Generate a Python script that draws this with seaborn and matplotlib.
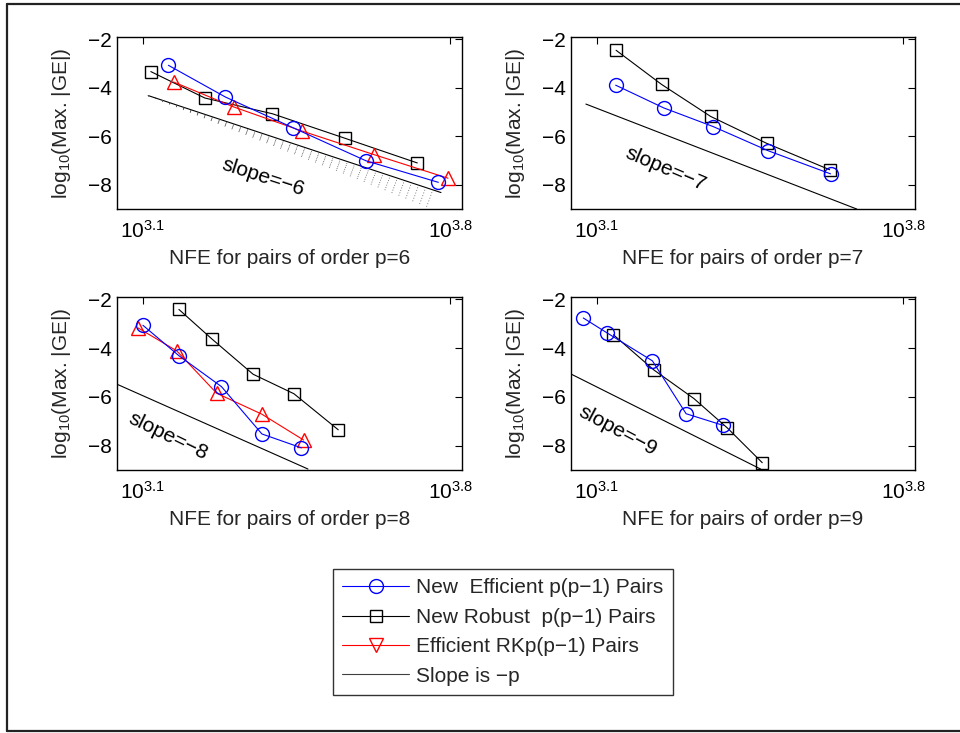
import numpy as np
import pandas as pd
import matplotlib
matplotlib.use("Agg")
import matplotlib.pyplot as plt
import seaborn as sns
from matplotlib.lines import Line2D
from matplotlib.ticker import FixedLocator, FixedFormatter, NullLocator

# ---- data (log10 of NFE, log10 of max |GE|) ----
orders = [6, 7, 8, 9]

eff_lognfe = {
    6: [3.158, 3.288, 3.441, 3.608, 3.773],
    7: [3.143, 3.253, 3.366, 3.492, 3.634],
    8: [3.100, 3.182, 3.279, 3.371, 3.461],
    9: [3.069, 3.124, 3.227, 3.304, 3.389],
}
eff_err = {
    6: [-3.07, -4.38, -5.64, -7.01, -7.90],
    7: [-3.89, -4.83, -5.60, -6.60, -7.55],
    8: [-3.06, -4.31, -5.58, -7.52, -8.09],
    9: [-2.76, -3.38, -4.52, -6.69, -7.17],
}

rob_lognfe = {
    6: [3.118, 3.241, 3.395, 3.560, 3.725],
    7: [3.144, 3.248, 3.360, 3.488, 3.632],
    8: [3.182, 3.257, 3.351, 3.444, 3.545],
    9: [3.138, 3.230, 3.322, 3.398, 3.478],
}
rob_err = {
    6: [-3.33, -4.42, -5.07, -6.08, -7.10],
    7: [-2.45, -3.86, -5.18, -6.29, -7.38],
    8: [-2.41, -3.62, -5.07, -5.87, -7.35],
    9: [-3.45, -4.89, -6.07, -7.27, -8.70],
}

rk_lognfe = {
    6: [3.170, 3.307, 3.462, 3.627, 3.795],
    8: [3.089, 3.177, 3.268, 3.371, 3.466],
}
rk_err = {
    6: [-3.76, -4.79, -5.78, -6.76, -7.73],
    8: [-3.17, -4.11, -5.85, -6.71, -7.77],
}

# reference line of slope -p: start point and end abscissa
slope_x0 = [3.112, 3.075, 3.041, 3.042]
slope_y0 = [-4.32, -4.67, -5.48, -5.07]
slope_x1 = [3.779, 3.694, 3.476, 3.474]

# slopes of the dotted shading under the p=6 reference line
shade_slopes = [-6.2, -6.4, -6.6, -6.8, -7.0, -7.2]
shade_x1 = 3.76

legend_labels = ["New  Efficient p(p\u22121) Pairs", "New Robust  p(p\u22121) Pairs",
                 "Efficient RKp(p\u22121) Pairs", "Slope is \u2212p"]

sns.set_theme(style="white")
plt.rcParams["font.family"] = ["Liberation Sans", "DejaVu Sans"]
plt.rcParams["mathtext.fontset"] = "custom"
plt.rcParams["mathtext.rm"] = "Liberation Sans"

fig = plt.figure(figsize=(9.6, 7.33), dpi=100)

# axes boxes in figure fractions
boxes = {
    6: [0.1219, 0.7149, 0.3594, 0.2347],
    7: [0.5948, 0.7149, 0.3583, 0.2347],
    8: [0.1219, 0.3588, 0.3594, 0.2360],
    9: [0.5948, 0.3588, 0.3583, 0.2360],
}
# label position (log10 nfe, err) and rotation of the "slope=-p" text
slope_text = {
    6: (3.374, -7.68, -18),
    7: (3.257, -7.36, -23),
    8: (3.158, -7.62, -26),
    9: (3.147, -7.39, -28),
}

fs = 15
lw = 0.8
for i, p in enumerate(orders):
    ax = fig.add_axes(boxes[p])
    ax.set_xscale("log")

    # slope line
    x0, y0, x1 = slope_x0[i], slope_y0[i], slope_x1[i]
    y1 = y0 - p * (x1 - x0)
    ax.plot([10 ** x0, 10 ** x1], [y0, y1], color="black", lw=lw)

    if p == 6:
        for s in shade_slopes:
            ys = y0 + s * (shade_x1 - x0)
            ax.plot([10 ** x0, 10 ** shade_x1], [y0, ys], color="0.3",
                    lw=0.7, ls=(0, (0.7, 7)))

    df_r = pd.DataFrame({"nfe": 10 ** np.array(rob_lognfe[p]), "err": rob_err[p]})
    sns.lineplot(data=df_r, x="nfe", y="err", ax=ax, color="black", lw=lw,
                 marker="s", markersize=8, markerfacecolor="none",
                 markeredgecolor="black", markeredgewidth=1.0)

    if p in rk_lognfe:
        df_k = pd.DataFrame({"nfe": 10 ** np.array(rk_lognfe[p]), "err": rk_err[p]})
        sns.lineplot(data=df_k, x="nfe", y="err", ax=ax, color="red", lw=lw,
                     marker="^", markersize=10, markerfacecolor="none",
                     markeredgecolor="red", markeredgewidth=1.0)

    df_e = pd.DataFrame({"nfe": 10 ** np.array(eff_lognfe[p]), "err": eff_err[p]})
    sns.lineplot(data=df_e, x="nfe", y="err", ax=ax, color="blue", lw=lw,
                 marker="o", markersize=10, markerfacecolor="none",
                 markeredgecolor="blue", markeredgewidth=1.0)

    tx, ty, rot = slope_text[p]
    ax.text(10 ** tx, ty, "slope=\u2212%d" % p, fontsize=fs, rotation=rot,
            ha="center", va="center", color="black")

    ax.set_xlim(10 ** 3.041, 10 ** 3.827)
    ax.set_ylim(-9, -1.9)
    ax.xaxis.set_major_locator(FixedLocator([10 ** 3.1, 10 ** 3.8]))
    ax.xaxis.set_major_formatter(FixedFormatter([r"$\mathregular{10^{3.1}}$",
                                                 r"$\mathregular{10^{3.8}}$"]))
    ax.xaxis.set_minor_locator(NullLocator())
    ax.set_yticks([-8, -6, -4, -2])
    ax.tick_params(direction="in", length=5, width=0.8, top=True, right=True,
                   labelsize=fs, colors="black")
    ax.tick_params(axis="x", pad=8)
    for sp in ax.spines.values():
        sp.set_color("black")
        sp.set_linewidth(1.0)
    ax.set_xlabel("NFE for pairs of order p=%d" % p, fontsize=fs, labelpad=5)
    ax.set_ylabel(r"$\mathregular{log_{10}}$(Max. |GE|)", fontsize=fs, labelpad=11)

handles = [
    Line2D([], [], color="blue", lw=lw, marker="o", markersize=10,
           markerfacecolor="none", markeredgecolor="blue"),
    Line2D([], [], color="black", lw=lw, marker="s", markersize=8,
           markerfacecolor="none", markeredgecolor="black"),
    Line2D([], [], color="red", lw=lw, marker="v", markersize=10,
           markerfacecolor="none", markeredgecolor="red"),
    Line2D([], [], color="0.25", lw=lw),
]
leg = fig.legend(handles, legend_labels, loc="lower left",
                 bbox_to_anchor=(0.3469, 0.0518), borderaxespad=0, fontsize=fs,
                 frameon=True, fancybox=False, edgecolor="black", handlelength=3.2,
                 handletextpad=0.35, labelspacing=0.5, borderpad=0.45)
leg.get_frame().set_linewidth(1.0)

# outer frame (right side cropped in the reference)
fig.add_artist(Line2D([0.0078, 1.0], [0.9952, 0.9952], color="#222222", lw=1.6,
                      transform=fig.transFigure))
fig.add_artist(Line2D([0.0078, 0.0078], [0.0027, 0.9952], color="#222222", lw=1.6,
                      transform=fig.transFigure))
fig.add_artist(Line2D([0.0078, 1.0], [0.0027, 0.0027], color="#222222", lw=1.6,
                      transform=fig.transFigure))

plt.savefig("out.png", dpi=100)
